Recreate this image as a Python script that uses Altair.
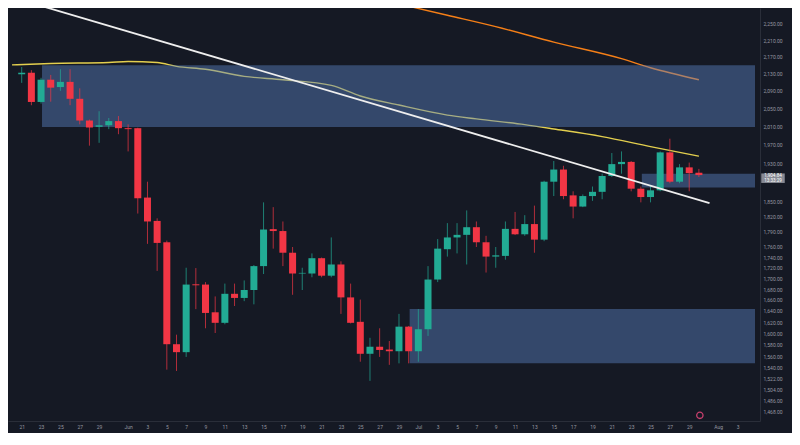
import altair as alt
import pandas as pd

# ---------------- data ----------------
candle_days = [d.strftime("%Y-%m-%dT00:00:00Z") for d in pd.date_range("2023-05-21", "2023-07-30", freq="D")]
opens = [2128.7, 2132.3, 2064.7, 2116.0, 2098.9, 2110.9, 2071.9, 2022.9, 2008.9, 2012.3, 2021.6,
         2005.9, 2005.9, 1858.2, 1811.0, 1768.9, 1580.9, 1567.1, 1688.8, 1688.3, 1637.5, 1618.6,
         1671.2, 1663.6, 1678.2, 1723.0, 1794.7, 1790.9, 1748.6, 1709.0, 1709.0, 1738.1, 1704.9,
         1726.1, 1664.6, 1620.4, 1564.3, 1576.5, 1571.6, 1568.7, 1611.8,
         1568.7, 1607.2, 1697.7, 1755.4, 1778.3, 1783.4, 1798.5, 1768.9, 1741.2, 1742.5, 1795.2,
         1784.5, 1804.7, 1774.0, 1891.0, 1916.5, 1862.7, 1839.9, 1861.3, 1870.0, 1902.9, 1928.0,
         1932.7, 1876.5, 1859.3, 1873.1, 1953.1, 1891.0, 1921.1, 1909.8]
highs = [2145.8, 2138.4, 2120.5, 2127.2, 2140.6, 2140.6, 2096.0, 2025.0, 2043.7, 2028.6, 2032.9,
         2014.4, 2007.0, 1891.0, 1816.2, 1772.1, 1597.6, 1719.9, 1719.3, 1692.9, 1666.4, 1690.1,
         1690.1, 1696.0, 1725.0, 1848.4, 1838.7, 1809.9, 1759.7, 1719.9, 1747.3, 1739.4, 1778.3,
         1732.1, 1690.1, 1660.6, 1592.1, 1608.9, 1586.5, 1634.6, 1613.0,
         1643.2, 1723.0, 1775.1, 1806.6, 1806.6, 1832.1, 1809.9, 1781.5, 1759.7, 1809.9, 1829.0,
         1822.5, 1841.8, 1893.0, 1934.7, 1924.5, 1871.1, 1864.6, 1881.0, 1907.8, 1951.7, 1955.2,
         1934.7, 1881.0, 1884.4, 1955.2, 1982.8, 1928.0, 1931.3, 1917.9]
lows = [2108.6, 2057.3, 2061.0, 2065.3, 2090.1, 2057.3, 2014.4, 1967.6, 1973.8, 2003.8, 1992.6,
        1955.2, 1825.8, 1765.8, 1713.9, 1537.2, 1535.0, 1558.9, 1643.2, 1608.9, 1600.5, 1616.0,
        1648.9, 1657.7, 1651.9, 1708.0, 1756.5, 1723.0, 1669.4, 1678.2, 1701.9, 1701.9, 1701.9,
        1634.6, 1617.5, 1550.7, 1518.3, 1558.9, 1545.3, 1547.9, 1547.9,
        1550.7, 1595.4, 1692.9, 1741.2, 1747.3, 1726.1, 1759.7, 1710.8, 1719.9, 1735.2, 1783.0,
        1781.5, 1748.6, 1771.0, 1861.3, 1854.8, 1816.2, 1838.7, 1851.5, 1854.8, 1900.9, 1907.8,
        1871.1, 1848.4, 1848.4, 1871.1, 1887.8, 1887.8, 1871.1, 1900.9]
closes = [2132.3, 2064.7, 2116.0, 2097.5, 2110.9, 2071.9, 2022.9, 2007.4, 2012.3, 2021.6, 2005.9,
          2003.8, 1856.8, 1809.9, 1767.6, 1580.9, 1567.1, 1688.3, 1687.0, 1636.3, 1618.6, 1671.2,
          1663.6, 1678.2, 1723.0, 1793.9, 1790.9, 1748.6, 1709.0, 1710.2, 1738.1, 1704.9, 1726.1,
          1664.6, 1618.6, 1564.3, 1576.5, 1570.9, 1568.7, 1611.8, 1568.7,
          1607.2, 1697.7, 1756.5, 1778.3, 1783.4, 1798.5, 1768.9, 1741.2, 1743.6, 1795.2, 1784.5,
          1804.7, 1774.0, 1891.0, 1916.5, 1861.3, 1839.9, 1861.3, 1870.0, 1902.9, 1928.0, 1932.7,
          1876.5, 1859.3, 1873.1, 1953.1, 1891.0, 1921.1, 1909.0, 1904.84]

yellow_days = ["2023-05-20", "2023-05-24", "2023-05-30", "2023-06-01", "2023-06-04", "2023-06-06",
               "2023-06-09", "2023-06-13", "2023-06-17", "2023-06-22", "2023-06-25", "2023-06-29",
               "2023-07-04", "2023-07-07", "2023-07-12", "2023-07-15", "2023-07-20", "2023-07-25",
               "2023-07-30"]
yellow_ma = [2150.8, 2154.2, 2156.5, 2158.8, 2156.5, 2147.4, 2140.6, 2123.8, 2116.0, 2102.7,
             2078.4, 2057.7, 2035.1, 2026.5, 2013.7, 2004.2, 1987.4, 1965.5, 1944.9]

orange_days = ["2023-06-28", "2023-07-04", "2023-07-09", "2023-07-15", "2023-07-22", "2023-07-25",
               "2023-07-30"]
orange_ma = [2306.0, 2271.7, 2243.4, 2205.5, 2165.6, 2144.0, 2116.0]

trend_times = ["2023-05-22T00:00:00Z", "2023-07-31T02:24:00Z"]
trend_prices = [2302.7, 1847.0]

zone_starts = ["2023-05-23T02:24:00Z", "2023-06-30T02:24:00Z", "2023-07-24T02:24:00Z"]
zone_ends = ["2023-08-04T19:12:00Z", "2023-08-04T19:12:00Z", "2023-08-04T19:12:00Z"]
zone_lows = [2008.5, 1548.0, 1879.0]
zone_highs = [2150.0, 1643.3, 1907.6]

x_tick_days = ["2023-05-21", "2023-05-23", "2023-05-25", "2023-05-27", "2023-05-29", "2023-06-01",
               "2023-06-03", "2023-06-05", "2023-06-07", "2023-06-09", "2023-06-11", "2023-06-13",
               "2023-06-15", "2023-06-17", "2023-06-19", "2023-06-21", "2023-06-23", "2023-06-25",
               "2023-06-27", "2023-06-29", "2023-07-01", "2023-07-03", "2023-07-05", "2023-07-07",
               "2023-07-09", "2023-07-11", "2023-07-13", "2023-07-15", "2023-07-17", "2023-07-19",
               "2023-07-21", "2023-07-23", "2023-07-25", "2023-07-27", "2023-07-29", "2023-08-01",
               "2023-08-03"]
x_tick_labels = ["21", "23", "25", "27", "29", "Jun", "3", "5", "7", "9", "11", "13", "15", "17",
                 "19", "21", "23", "25", "27", "29", "Jul", "3", "5", "7", "9", "11", "13", "15",
                 "17", "19", "21", "23", "25", "27", "29", "Aug", "3"]
y_tick_values = [2250, 2210, 2170, 2130, 2090, 2050, 2010, 1970, 1930, 1850, 1820, 1790, 1760,
                 1740, 1720, 1700, 1680, 1660, 1640, 1620, 1600, 1580, 1560, 1540, 1522, 1504,
                 1486, 1468]

last_price = [1904.84]
last_price_label = ["1,904.84"]
countdown_label = ["13:33:29"]
marker_time = ["2023-07-30T02:24:00Z"]
marker_price = [1461.7]

# ---------------- tables ----------------
candles = pd.DataFrame({"t": candle_days, "open": opens, "high": highs, "low": lows, "close": closes})
candles["dir"] = ["up" if c >= o else "down" for o, c in zip(opens, closes)]
yellow = pd.DataFrame({"t": [d + "T00:00:00Z" for d in yellow_days], "v": yellow_ma})
orange = pd.DataFrame({"t": [d + "T00:00:00Z" for d in orange_days], "v": orange_ma})
trend = pd.DataFrame({"t": trend_times, "v": trend_prices})
zones = pd.DataFrame({"t": zone_starts, "t2": zone_ends, "lo": zone_lows, "hi": zone_highs})
tag = pd.DataFrame({"v": last_price, "lab": last_price_label, "cd": countdown_label})
marker = pd.DataFrame({"t": marker_time, "v": marker_price})


def ms(s):
    return int(pd.Timestamp(s, tz="UTC").value // 10**6)


W, H = 752, 413
AX_R, AX_B = 32, 12
BG = "#151924"

tick_ms = [ms(d) for d in x_tick_days]
label_expr = "[" + ",".join("'%s'" % s for s in x_tick_labels) + "][indexof([" + \
    ",".join("'%s'" % d for d in x_tick_days) + "], utcFormat(datum.value, '%Y-%m-%d'))]"

xscale = alt.Scale(type="utc", domain=[ms("2023-05-20T02:24:00"), ms("2023-08-04T19:12:00")], nice=False)
yscale = alt.Scale(type="log", domain=[1452.6, 2290.0], nice=False, zero=False)
xaxis = alt.Axis(values=tick_ms, labelExpr=label_expr, ticks=False, grid=False, labelPadding=3,
                 domainColor="#2a2e39", labelColor="#9598a1", labelFontSize=5.0, labelFont="Roboto",
                 labelFlush=False, labelOverlap=False)
yaxis = alt.Axis(values=y_tick_values, format=",.2f", orient="right", ticks=False, grid=False,
                 labelAlign="left", labelPadding=3, domainColor="#2a2e39", labelColor="#9598a1",
                 labelFontSize=5.0, labelFont="Roboto", labelOverlap=False, labelFlush=False)


def X(field):
    return alt.X(field, type="temporal", scale=xscale, axis=xaxis, title=None)


def Y(field):
    return alt.Y(field, type="quantitative", scale=yscale, axis=yaxis, title=None)


col = alt.Color("dir:N", scale=alt.Scale(domain=["up", "down"], range=["#22ab94", "#f23645"]), legend=None)

yellow_line = alt.Chart(yellow).mark_line(color="#e3cf4e", strokeWidth=1.4, interpolate="monotone",
                                          clip=True).encode(x=X("t"), y=Y("v"))
orange_line = alt.Chart(orange).mark_line(color="#f57f17", strokeWidth=1.4, interpolate="monotone",
                                          clip=True).encode(x=X("t"), y=Y("v"))
zone_rects = alt.Chart(zones).mark_rect(color="#5b82c4", opacity=0.45, clip=True).encode(
    x=X("t"), x2="t2", y=Y("lo"), y2="hi")
wicks = alt.Chart(candles).mark_rule(strokeWidth=1, opacity=0.7).encode(
    x=X("t"), y=Y("low"), y2="high", color=col)
bodies = alt.Chart(candles).mark_bar(size=7).encode(
    x=X("t"), y=Y("open"), y2="close", color=col)
trend_line = alt.Chart(trend).mark_line(color="#eeeeee", strokeWidth=1.8, clip=True).encode(
    x=X("t"), y=Y("v"))
icon = alt.Chart(marker).mark_point(shape="circle", size=40, stroke="#c8406e", strokeWidth=1.3,
                                    fill=BG, filled=False, opacity=1).encode(x=X("t"), y=Y("v"))
tag_box = alt.Chart(tag).mark_point(shape="M-1,-0.14H1V0.67H-1Z", size=552, filled=True,
                                    color="#878a94", opacity=1).encode(
    x=alt.value(W + 13), y=Y("v"))
tag_text = alt.Chart(tag).mark_text(fontSize=4.6, color="#ffffff", font="Roboto", dy=1.2,
                                    align="center", baseline="middle").encode(
    x=alt.value(W + 13), y=Y("v"), text="lab:N")
tag_cd = alt.Chart(tag).mark_text(fontSize=4.6, color="#ffffff", font="Roboto", dy=5.8,
                                  align="center", baseline="middle").encode(
    x=alt.value(W + 13), y=Y("v"), text="cd:N")

chart = alt.layer(
    yellow_line, orange_line, zone_rects, wicks, bodies, trend_line, icon, tag_box, tag_text, tag_cd
).properties(
    width=W, height=H, background=BG,
    padding={"left": 0, "top": 0, "right": AX_R, "bottom": AX_B},
    autosize=alt.AutoSizeParams(type="none"),
).configure_view(stroke=None)

chart.save("out.html", embed_options={"renderer": "svg", "actions": False})
